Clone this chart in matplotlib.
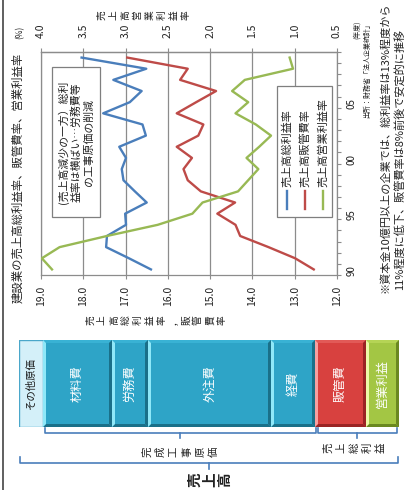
import matplotlib.pyplot as plt
import numpy as np
from matplotlib.patches import Rectangle

plt.rcParams['font.family'] = ['Noto Sans CJK JP', 'DejaVu Sans']

# ---- data ----
years = list(range(1990, 2010))
gross_margin = [16.40, 16.92, 17.46, 17.44, 16.99, 17.01, 16.50, 16.78, 17.05, 17.09,
                16.99, 17.15, 16.52, 16.60, 17.53, 16.90, 16.62, 17.29, 16.51, 18.04]
sga_ratio = [12.55, 12.99, 13.62, 14.29, 14.40, 14.83, 14.41, 15.22, 15.53, 15.63,
             15.43, 15.79, 15.28, 15.16, 15.79, 15.33, 14.86, 15.71, 15.53, 16.96]
op_margin = [3.87, 3.99, 3.78, 3.22, 2.62, 2.21, 2.09, 1.67, 1.55, 1.43,
             1.57, 1.42, 1.28, 1.46, 1.70, 1.55, 1.74, 1.59, 1.02, 1.06]

series_names = ['売上高総利益率', '売上高販管費率', '売上高営業利益率']
series_colors = ['#4a7ebb', '#be4b48', '#98b954']

left_ticks = [19.0, 18.0, 17.0, 16.0, 15.0, 14.0, 13.0, 12.0]
right_ticks = [4.0, 3.5, 3.0, 2.5, 2.0, 1.5, 1.0, 0.5]
year_ticks = [1990, 1995, 2000, 2005]
year_labels = ['90', '95', '00', '05']

cost_items = ['その他原価', '材料費', '労務費', '外注費', '経費', '販管費', '営業利益']
cost_shares = [24, 69, 36, 123, 44, 51, 33]

title = '建設業の売上高総利益率、販管費率、営業利益率'
note_box = '(売上高減少の一方）総利\n益率は横ばい…労務費等\nの工事原価の削減'
source = '出所：財務省「法人企業統計」'
foot1 = '※資本金10億円以上の企業では、総利益率は13%程度から'
foot2 = '11%程度に低下、販管費率は8%前後で安定的に推移'

W, H = 406, 490
grid_c = '#8c8c8c'
txt_c = '#222222'

fig = plt.figure(figsize=(W / 100, H / 100), dpi=100)

# ---- rotated line chart: value on x, fiscal year on y ----
ax = fig.add_axes([41 / W, 1 - 275 / H, (337 - 41) / W, (275 - 52) / H])
ax.set_xlim(19, 12)
ax.set_ylim(years[0] - 0.5, years[-1] + 0.5)
ax.plot(gross_margin, years, color=series_colors[0], lw=1.7)
ax.plot(sga_ratio, years, color=series_colors[1], lw=1.7)

ax.set_xticks(left_ticks)
ax.set_xticklabels([f'{t:.1f}' for t in left_ticks], rotation=90)
ax.grid(axis='x', color=grid_c, lw=0.9)
ax.tick_params(axis='x', direction='out', length=3, color=grid_c, pad=5,
               labelsize=7.5, labelcolor=txt_c)

ax.set_yticks(np.arange(years[0] - 0.5, years[-1] + 1, 1))
ax.set_yticks(year_ticks, minor=True)
ax.set_yticklabels(year_labels, minor=True)
ax.tick_params(axis='y', which='major', left=False, right=True, labelleft=False,
               labelright=False, direction='out', length=3, color=grid_c)
ax.tick_params(axis='y', which='minor', left=False, right=False, labelleft=False,
               labelright=True, length=0, pad=7, labelsize=7, labelrotation=90,
               labelcolor=txt_c)
for s in ax.spines.values():
    s.set_color(grid_c)
    s.set_linewidth(0.9)

ax2 = ax.twiny()
ax2.set_xlim(4.0, 0.5)
ax2.plot(op_margin, years, color=series_colors[2], lw=1.7)
ax2.set_xticks(right_ticks)
ax2.set_xticklabels([f'{t:.1f}' for t in right_ticks], rotation=90)
ax2.tick_params(axis='x', direction='out', length=3, color=grid_c, pad=7,
                labelsize=7.5, labelcolor=txt_c)
for k, s in ax2.spines.items():
    s.set_visible(k == 'top')
    s.set_color(grid_c)
    s.set_linewidth(0.9)

# ---- cost structure bar (horizontal stack) ----
bx = fig.add_axes([19 / W, 1 - 427 / H, 380 / W, 87 / H])
total = sum(cost_shares)
bx.set_xlim(0, total)
bx.set_ylim(0, 1)
bx.axis('off')

face = ['#d4f0f9', '#2ea4c7', '#2ea4c7', '#2ea4c7', '#2ea4c7', '#d8413f', '#a3c644']
light = ['#d4f0f9', '#8fe8f8', '#8fe8f8', '#8fe8f8', '#8fe8f8', '#f7a0a0', '#eef9a8']
dark = ['#d4f0f9', '#1a7089', '#1a7089', '#1a7089', '#1a7089', '#9a2424', '#6a8821']
top = ['#d4f0f9', '#39b2d4', '#39b2d4', '#39b2d4', '#39b2d4', '#e25a57', '#b5d455']
label_c = ['#1a1a1a', 'white', 'white', 'white', 'white', 'white', 'white']
label_s = [7.5, 8.8, 8.8, 8.8, 8.8, 8.8, 8.8]

lefts = np.concatenate([[0], np.cumsum(cost_shares)[:-1]])
bw, bh = 3, 3 / 87
for i, (name, w, l) in enumerate(zip(cost_items, cost_shares, lefts)):
    if i == 0:
        bx.barh(0.5, w, left=l, height=1, color=face[i], edgecolor='#4aa7ca', lw=1)
    else:
        bx.barh(0.5, w, left=l, height=1, color=face[i], lw=0)
        r = l + w
        bx.fill([l, r, r - bw, l + bw], [1, 1, 1 - bh, 1 - bh], color=top[i], lw=0)
        bx.fill([l, r, r - bw, l + bw], [0, 0, bh, bh], color=dark[i], lw=0)
        bx.fill([l, l, l + bw, l + bw], [0, 1, 1 - bh, bh], color=light[i], lw=0)
        bx.fill([r, r, r - bw, r - bw], [0, 1, 1 - bh, bh], color=dark[i], lw=0)
    bx.text(l + w / 2, 0.5, name, rotation=90, ha='center', va='center',
            color=label_c[i], fontsize=label_s[i])

# ---- overlay in pixel coordinates for text and brackets ----
ov = fig.add_axes([0, 0, 1, 1])
ov.set_xlim(0, W)
ov.set_ylim(H, 0)
ov.axis('off')
ov.set_zorder(5)
ov.patch.set_visible(False)

ov.plot([3, 3], [0, H], color='#444444', lw=1.2)


def stacked(xc, y, s, pitch, size, **kw):
    n = len(s)
    for i, ch in enumerate(s):
        ov.text(xc + (i - (n - 1) / 2) * pitch, y, ch, rotation=90, ha='center',
                va='center', fontsize=size, color=txt_c, **kw)


ov.text(18, 303, title, rotation=90, rotation_mode='anchor', ha='left', va='center',
        fontsize=8.2, color=txt_c)
ov.text(20, 32, '(%)', rotation=90, ha='center', va='center', fontsize=6, color=txt_c)
stacked(143.5, 15, '売上高営業利益率', 12, 7)
stacked(156, 320, '売上高総利益率，販管費率', 12, 7)
ov.text(357, 30, '(年度)', rotation=90, ha='center', va='center', fontsize=5, color=txt_c)

# annotation box
ov.add_patch(Rectangle((52, 67), 48, 150, facecolor='white', edgecolor='#7f7f7f', lw=0.9))
ov.text(76, 142, note_box, rotation=90, ha='center', va='center', multialignment='center',
        fontsize=7.8, linespacing=1.25, color=txt_c)

# legend
ov.add_patch(Rectangle((277, 86), 55, 131, facecolor='white', edgecolor='#7f7f7f', lw=0.9))
for i, (name, c) in enumerate(zip(series_names, series_colors)):
    lx = 287 + 18 * i
    ov.plot([lx, lx], [209, 191], color=c, lw=1.7)
    ov.text(lx, 187, name, rotation=90, rotation_mode='anchor', ha='left', va='center',
            fontsize=8, color=txt_c)

# notes at the right
ov.text(367, 20, source, rotation=90, rotation_mode='anchor', ha='right', va='center',
        fontsize=5, color=txt_c)
ov.text(385, 293, foot1, rotation=90, rotation_mode='anchor', ha='left', va='center',
        fontsize=8, color=txt_c)
ov.text(399, 290, foot2, rotation=90, rotation_mode='anchor', ha='left', va='center',
        fontsize=8, color=txt_c)

# brackets under the bar, derived from the cost segments
bar_x0 = 19
edges = bar_x0 + np.concatenate([[0], np.cumsum(cost_shares)])
br_c = '#4a7ebb'


def bracket(x0, x1, y, up, down):
    ov.plot([x0, x0, x1, x1], [y - up, y, y, y - up], color=br_c, lw=1.2)
    xc = (x0 + x1) / 2
    ov.plot([xc, xc], [y, y + down], color=br_c, lw=1.2)
    return xc


c1 = bracket(edges[1] + 2, edges[5] + 1, 433, 5, 5)
c2 = bracket(edges[5] + 3, edges[7] - 2, 433, 5, 5)
c3 = bracket(edges[0] + 1, edges[7] - 1, 463, 6, 6)
stacked(c1, 452, '完成工事原価', 13.4, 7.5)
stacked(c2 - 3, 448, '売上総利益', 13, 7.5)
stacked(c3, 480, '売上高', 15, 10.5, fontweight='bold')

fig.savefig('out.png', dpi=100)
